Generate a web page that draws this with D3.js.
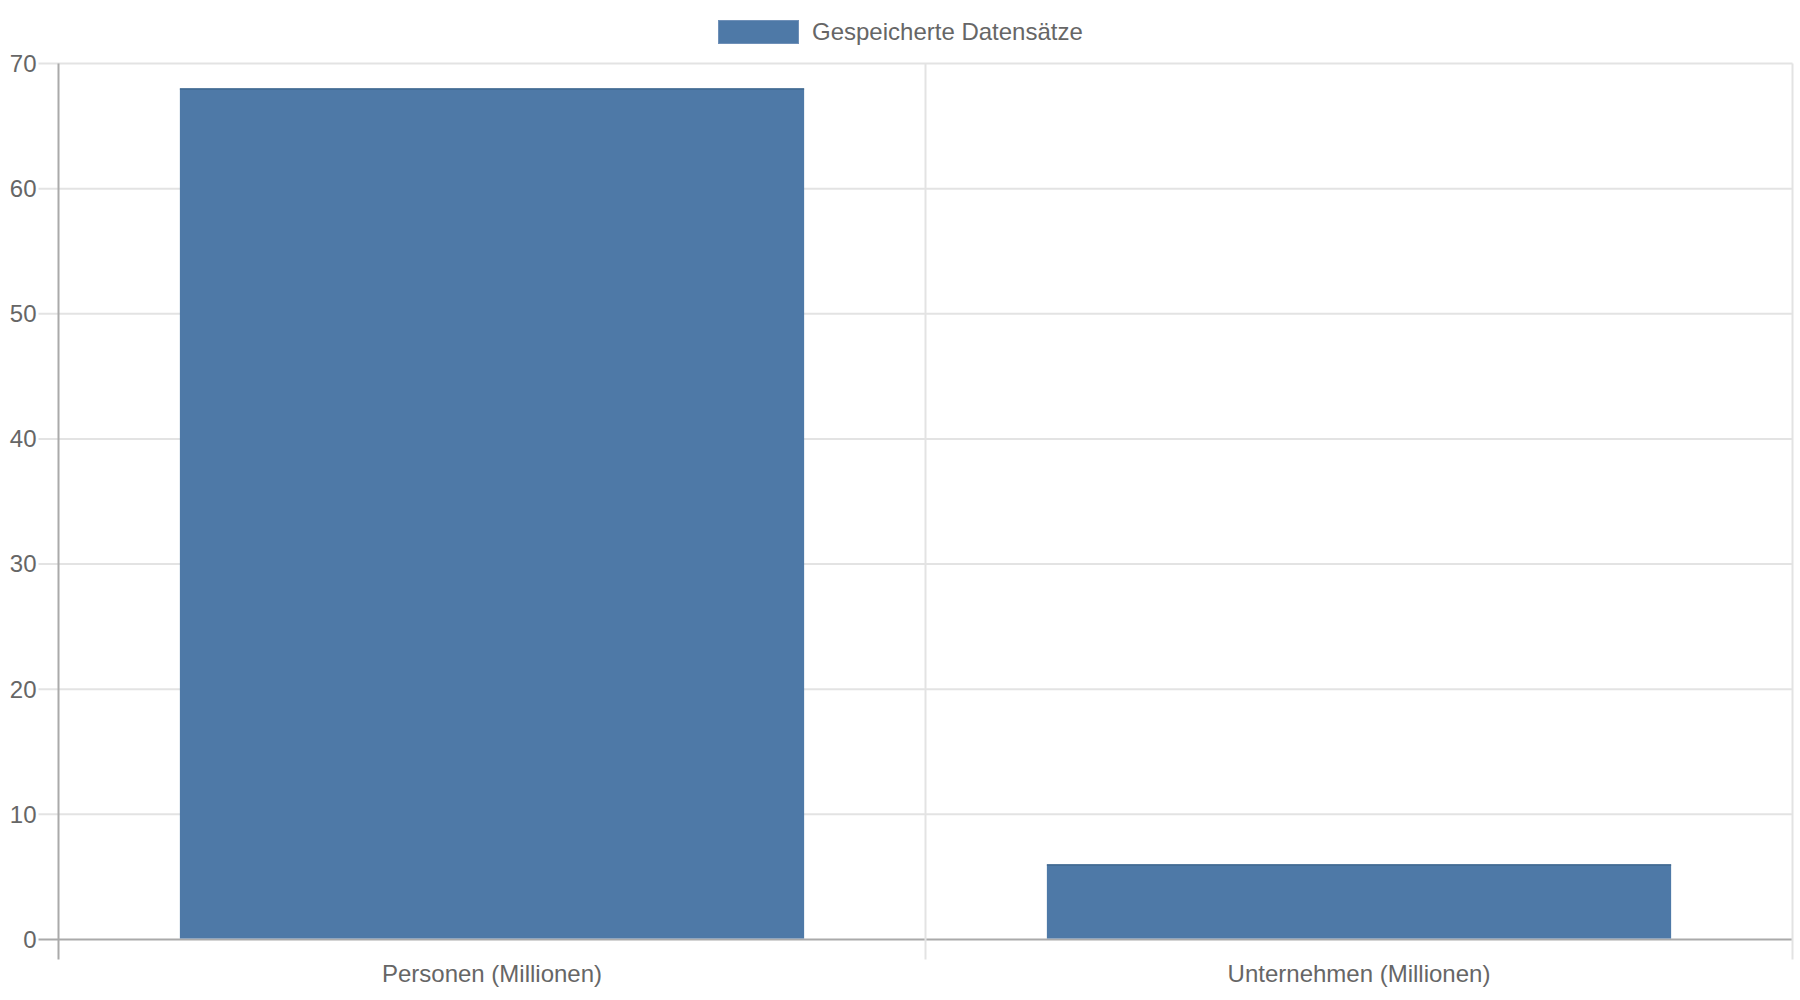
<!DOCTYPE html>
<html>
<head>
<meta charset="utf-8">
<script src="https://cdn.jsdelivr.net/npm/d3@7"></script>
<style>
	body { margin: 0; background: #fff; }
	text { font-family: "Liberation Sans", Arial, sans-serif; fill: #666; }
</style>
</head>
<body>
<div id="chart"></div>
<script>

var categories = ["Personen (Millionen)", "Unternehmen (Millionen)"];
var values = [68, 6];
var seriesName = "Gespeicherte Datensätze";
var yTicks = [0, 10, 20, 30, 40, 50, 60, 70];

const W = 1800, H = 1000;
const margin = { top: 63.5, right: 7.5, bottom: 60.5, left: 58.5 };
const color = "#4e79a7";

var svg = d3.select("#chart").append("svg")
	.attr("width", W)
	.attr("height", H);

var x = d3.scaleBand(categories, [margin.left, W - margin.right]);
var y = d3.scaleLinear([0, 70], [H - margin.bottom, margin.top]);

// horizontal grid + tick marks
svg.append("g")
	.selectAll("line")
	.data(yTicks)
	.join("line")
		.attr("x1", margin.left - 20)
		.attr("x2", W - margin.right)
		.attr("y1", d => y(d))
		.attr("y2", d => y(d))
		.attr("stroke", d => d === 0 ? "#aaa" : "#e3e3e3")
		.attr("stroke-width", 2);

// vertical grid at category boundaries
var bounds = categories.map(c => x(c)).concat([x.range()[1]]);
svg.append("g")
	.selectAll("line")
	.data(bounds)
	.join("line")
		.attr("x1", d => d)
		.attr("x2", d => d)
		.attr("y1", margin.top)
		.attr("y2", y(0) + 20)
		.attr("stroke", (d, i) => i === 0 ? "#aaa" : "#e3e3e3")
		.attr("stroke-width", 2);

// y tick labels
svg.append("g")
	.selectAll("text")
	.data(yTicks)
	.join("text")
		.attr("x", margin.left - 22)
		.attr("y", d => y(d))
		.attr("dy", "0.35em")
		.attr("text-anchor", "end")
		.attr("font-size", 24)
		.text(d => d);

// bars (Chart.js style: 0.9 * 0.8 of the category)
var bw = x.bandwidth() * 0.72;
var bars = svg.append("g")
	.selectAll("g")
	.data(categories)
	.join("g");

bars.append("rect")
	.attr("x", (d, i) => x(d) + (x.bandwidth() - bw) / 2)
	.attr("y", (d, i) => y(values[i]))
	.attr("width", bw)
	.attr("height", (d, i) => y(0) - y(values[i]) - 1)
	.attr("fill", color);

bars.append("line")
	.attr("x1", (d, i) => x(d) + (x.bandwidth() - bw) / 2)
	.attr("x2", (d, i) => x(d) + (x.bandwidth() + bw) / 2)
	.attr("y1", (d, i) => y(values[i]) + 0.5)
	.attr("y2", (d, i) => y(values[i]) + 0.5)
	.attr("stroke", "#41688f")
	.attr("stroke-width", 1.5);

// x labels
svg.append("g")
	.selectAll("text")
	.data(categories)
	.join("text")
		.attr("x", d => x(d) + x.bandwidth() / 2)
		.attr("y", 982)
		.attr("text-anchor", "middle")
		.attr("font-size", 24)
		.text(d => d);

// legend
var legend = svg.append("g");
legend.append("rect")
	.attr("x", 718.5)
	.attr("y", 20.5)
	.attr("width", 80)
	.attr("height", 23)
	.attr("fill", color)
	.attr("stroke", "#6f90b8")
	.attr("stroke-width", 1);
legend.append("text")
	.attr("x", 812)
	.attr("y", 32)
	.attr("dy", "0.35em")
	.attr("font-size", 24)
	.text(seriesName);

</script>
</body>
</html>
